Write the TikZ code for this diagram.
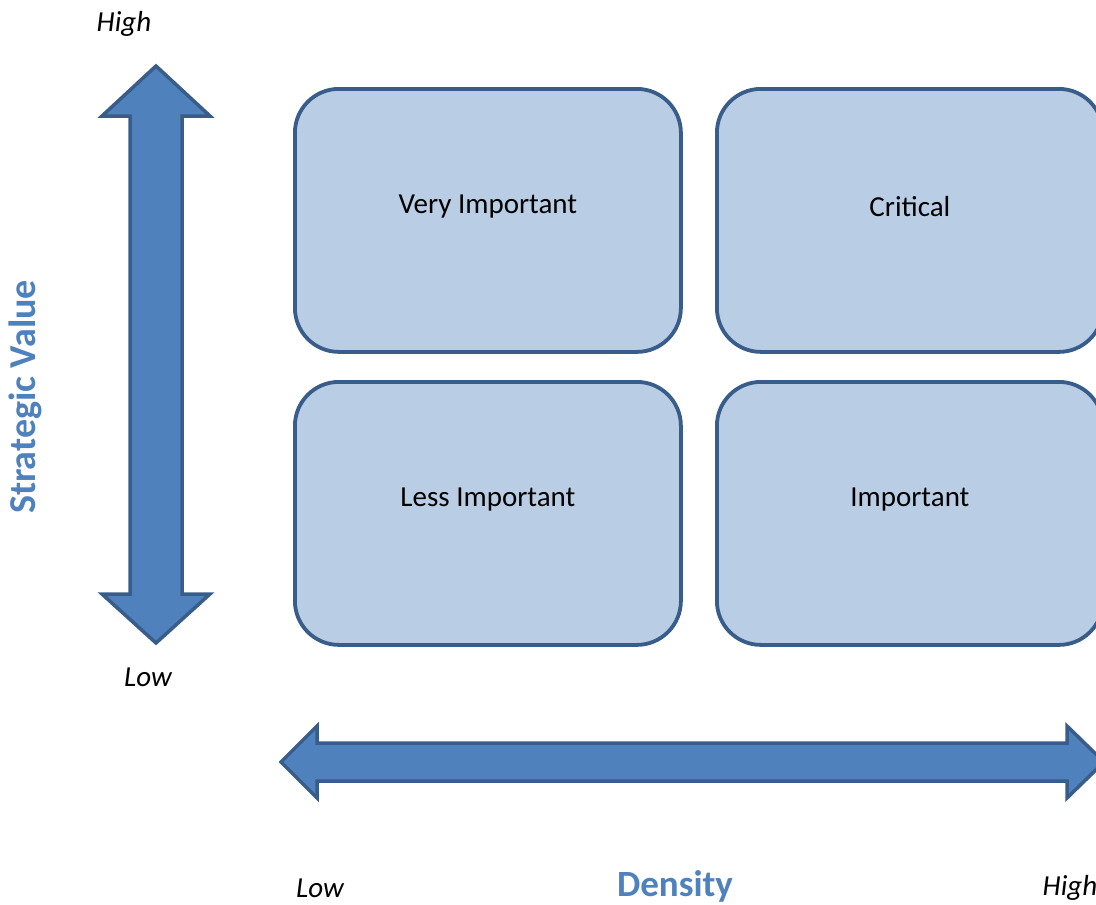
\documentclass[tikz,border=0pt]{standalone}
\usepackage{fontspec}
\setmainfont{Carlito}
\definecolor{boxfill}{HTML}{B9CDE5}
\definecolor{boxline}{HTML}{385D8A}
\definecolor{arrowfill}{HTML}{4F81BD}
\definecolor{titleblue}{HTML}{4F81BD}
\begin{document}
\begin{tikzpicture}[x=1pt,y=-1pt,
  quad/.style={draw=boxline, fill=boxfill, line width=3.8pt, rounded corners=44pt,
    minimum width=386pt, minimum height=263pt, inner sep=0pt, anchor=north west},
  qtext/.style={font=\fontsize{29}{34}\selectfont, text=black},
  bigarrow/.style={draw=boxline, fill=arrowfill, line width=3.5pt, line join=miter},
  axislabel/.style={font=\fontsize{29}{34}\selectfont\itshape, text=black},
  axistitle/.style={font=\fontsize{37}{44}\selectfont\bfseries, text=titleblue}]
\clip (0,0) rectangle (1096,905);
% quadrants
\node[quad] (vi) at (293,87) {};
\node[quad] (cr) at (715,87) {};
\node[quad] (li) at (293,380) {};
\node[quad] (im) at (715,380) {};
\node[qtext] (tvi) at ([yshift=14pt]vi.center) {Very Important};
\node[qtext] (tcr) at ([yshift=14pt]cr.center) {Critical};
\node[qtext] (tli) at ([yshift=14pt]li.center) {Less Important};
\node[qtext] (tim) at ([yshift=14pt]im.center) {Important};
% vertical arrow
\coordinate (vtop) at (156,66);
\coordinate (vbot) at (156,643);
\draw[bigarrow] (vtop) -- (210,116) -- (182,116) -- (182,594) -- (210,594) -- (vbot)
  -- (102,594) -- (130,594) -- (130,116) -- (102,116) -- cycle;
% horizontal arrow
\coordinate (hleft) at (281,762);
\coordinate (hright) at (1104,762);
\draw[bigarrow] (hleft) -- (317,726) -- (317,743) -- (1067,743) -- (1067,726) -- (hright)
  -- (1067,798) -- (1067,781) -- (317,781) -- (317,798) -- cycle;
% labels
\node[axislabel] (vhigh) at (124,24) {High};
\node[axislabel] (vlow) at (148,677) {Low};
\node[axislabel] (hlow) at (320,888) {Low};
\node[axislabel] (hhigh) at (1070,888) {High};
\node[axistitle] (dens) at (675,886) {Density};
\node[axistitle, rotate=90, font=\fontsize{38}{44}\selectfont\bfseries] (strat) at (25,397) {Strategic Value};
\end{tikzpicture}
\end{document}
